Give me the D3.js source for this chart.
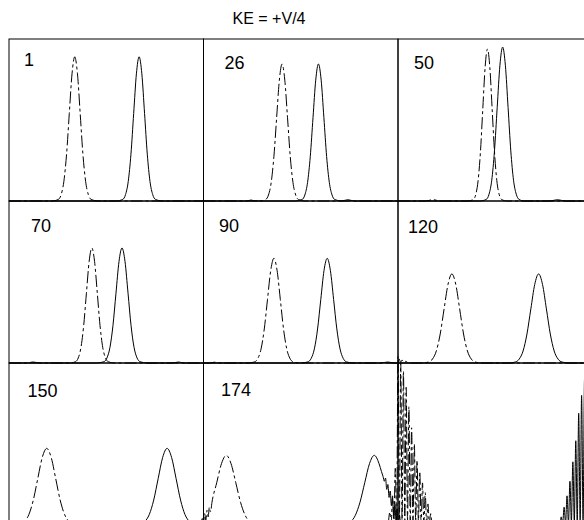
<!DOCTYPE html>
<html>
<head>
<meta charset="utf-8">
<script src="https://cdn.jsdelivr.net/npm/d3@7/dist/d3.min.js"></script>
<style>
html,body{margin:0;padding:0;background:#fff;}
svg{display:block;}
</style>
</head>
<body>
<script>
// ---------------- DATA (x: 0-100 across a panel, y: 0-1 of panel height) ----------------
const chartTitle = "KE = +V/4";
const panelLabels = ["1", "26", "50", "70", "90", "120", "150", "174", ""];

const dashedCurves = [
  // 1
  [[0,0],[22,0],[25.4,0.010],[26.8,0.039],[28.2,0.120],[29.6,0.289],[31.0,0.540],[32.4,0.785],[33.8,0.89],[35.2,0.785],[36.6,0.540],[38.0,0.289],[39.4,0.120],[40.8,0.039],[42.2,0.010],[46,0],[100,0]],
  // 26
  [[0,0],[22,0],[24.5,0.006],[26.5,0],[28.5,0.006],[30,0],[32.0,0.009],[33.4,0.037],[34.8,0.114],[36.2,0.275],[37.6,0.514],[39.0,0.746],[40.4,0.846],[41.8,0.746],[43.2,0.514],[44.6,0.275],[46.0,0.114],[47.4,0.037],[48.8,0.009],[52,0],[100,0]],
  // 50
  [[0,0],[14,0],[18,0.008],[22,0],[36,0],[38.8,0.010],[40.0,0.041],[41.2,0.127],[42.4,0.305],[43.6,0.569],[44.8,0.827],[46.0,0.938],[47.2,0.827],[48.4,0.569],[49.6,0.305],[50.8,0.127],[52.0,0.041],[53.2,0.010],[56,0],[100,0]],
  // 70
  [[0,0],[9,0],[12.4,0.006],[16,0],[31,0],[34.2,0.008],[35.6,0.031],[37.0,0.096],[38.4,0.231],[39.8,0.431],[41.2,0.626],[42.6,0.71],[44.0,0.626],[45.4,0.431],[46.8,0.231],[48.2,0.096],[49.6,0.031],[51.0,0.008],[54,0],[100,0]],
  // 90
  [[0,0],[3,0],[5.7,0.005],[9,0],[23,0],[26.3,0.007],[27.95,0.028],[29.6,0.087],[31.25,0.210],[32.9,0.392],[34.55,0.570],[36.2,0.646],[37.85,0.570],[39.5,0.392],[41.15,0.210],[42.8,0.087],[44.45,0.028],[46.1,0.007],[49,0],[100,0]],
  // 120
  [[0,0],[0.6,0.025],[1.3,0.004],[2.1,0.018],[3.0,0.003],[4.0,0.010],[5.5,0],[12,0],[15.7,0.006],[17.7,0.024],[19.7,0.074],[21.7,0.179],[23.7,0.334],[25.7,0.485],[27.7,0.55],[29.7,0.485],[31.7,0.334],[33.7,0.179],[35.7,0.074],[37.7,0.024],[39.7,0.006],[43,0],[100,0]],
  // 150
  [[0,0],[3,0],[5.6,0.005],[7.9,0.021],[10.2,0.064],[12.5,0.154],[14.8,0.287],[17.1,0.417],[19.4,0.473],[21.7,0.417],[24.0,0.287],[26.3,0.154],[28.6,0.064],[30.9,0.021],[33.2,0.005],[36,0],[100,0]],
  // 174
  [[-1.5,0],[-0.6,0.04],[0,0.01],[0.6,0.07],[1.2,0.03],[1.8,0.09],[2.4,0.05],[3.0,0.11],[3.6,0.08],[4.35,0.140],[6.8,0.261],[9.25,0.379],[11.7,0.43],[14.15,0.379],[16.6,0.261],[19.05,0.140],[21.5,0.058],[23.95,0.019],[26.4,0.005],[29,0],[100,0]],
  // last panel
  [[-5,0],[-4.2,0.08],[-3.5,0.01],[-2.8,0.18],[-2.1,0.01],[-1.4,0.35],[-0.7,0.02],[0,1.04],[0.7,0.03],[1.4,1.0],[2.1,0.03],[2.8,0.95],[3.5,0.03],[4.2,0.85],[4.9,0.03],[5.6,0.73],[6.3,0.02],[7.0,0.6],[7.7,0.02],[8.4,0.5],[9.1,0.02],[9.8,0.4],[10.5,0.02],[11.2,0.33],[11.9,0.01],[12.6,0.26],[13.3,0.01],[14.0,0.2],[14.7,0.01],[15.4,0.13],[16.1,0.01],[16.8,0.07],[17.5,0.005],[18.2,0.03],[19.5,0],[100,0]]
];

const solidCurves = [
  // 1
  [[0,0],[55,0],[58.5,0.010],[59.9,0.039],[61.3,0.120],[62.7,0.289],[64.1,0.540],[65.5,0.785],[66.9,0.89],[68.3,0.785],[69.7,0.540],[71.1,0.289],[72.5,0.120],[73.9,0.039],[75.3,0.010],[79,0],[100,0]],
  // 26
  [[0,0],[47,0],[50.7,0.009],[52.1,0.037],[53.5,0.114],[54.9,0.275],[56.3,0.514],[57.7,0.746],[59.1,0.846],[60.5,0.746],[61.9,0.514],[63.3,0.275],[64.7,0.114],[66.1,0.037],[67.5,0.009],[71,0],[74.2,0.008],[77.5,0],[100,0]],
  // 50
  [[0,0],[42,0],[45.4,0.010],[46.8,0.042],[48.2,0.128],[49.6,0.309],[51.0,0.577],[52.4,0.838],[53.8,0.95],[55.2,0.838],[56.6,0.577],[58.0,0.309],[59.4,0.128],[60.8,0.042],[62.2,0.010],[65,0],[78,0],[82,0.008],[86,0],[100,0]],
  // 70
  [[0,0],[45,0],[48.8,0.008],[50.35,0.031],[51.9,0.096],[53.45,0.231],[55.0,0.431],[56.55,0.626],[58.1,0.71],[59.65,0.626],[61.2,0.431],[62.75,0.231],[64.3,0.096],[65.85,0.031],[67.4,0.008],[71,0],[84,0],[87.1,0.006],[90,0],[100,0]],
  // 90
  [[0,0],[50,0],[53.7,0.007],[55.35,0.028],[57.0,0.087],[58.65,0.210],[60.3,0.392],[61.95,0.570],[63.6,0.646],[65.25,0.570],[66.9,0.392],[68.55,0.210],[70.2,0.087],[71.85,0.028],[73.5,0.007],[77,0],[91,0],[94.8,0.006],[98,0],[100,0]],
  // 120
  [[0,0],[57,0],[60.3,0.006],[62.3,0.024],[64.3,0.074],[66.3,0.179],[68.3,0.334],[70.3,0.485],[72.3,0.55],[74.3,0.485],[76.3,0.334],[78.3,0.179],[80.3,0.074],[82.3,0.024],[84.3,0.006],[88,0],[100,0]],
  // 150
  [[0,0],[64,0],[67.5,0.005],[69.8,0.021],[72.1,0.064],[74.4,0.154],[76.7,0.287],[79.0,0.417],[81.3,0.473],[83.6,0.417],[85.9,0.287],[88.2,0.154],[90.5,0.064],[92.8,0.021],[95.1,0.005],[98,0],[100,0]],
  // 174
  [[0,0],[70,0],[73.1,0.005],[75.55,0.019],[78.0,0.058],[80.45,0.140],[82.9,0.261],[85.35,0.379],[87.8,0.43],[90.25,0.379],[91.5,0.33],[92.3,0.30],[93.0,0.27],[93.6,0.29],[94.2,0.22],[94.8,0.25],[95.4,0.17],[96.0,0.21],[96.6,0.12],[97.2,0.17],[97.8,0.06],[98.4,0.13],[99.0,0.02],[99.6,0.10],[100.2,0.0],[100.8,0.06],[101.4,0],[102,0.03],[103,0]],
  // last panel
  [[0,0],[81,0],[82.4,0.02],[83.15,0.0],[83.9,0.05],[84.65,0.01],[85.4,0.11],[86.15,0.01],[86.9,0.18],[87.65,0.01],[88.4,0.27],[89.15,0.02],[89.9,0.39],[90.65,0.02],[91.4,0.52],[92.15,0.02],[92.9,0.69],[93.65,0.03],[94.4,0.8],[95.15,0.03],[95.9,0.9],[96.65,0.03],[97.4,1.0],[98.15,0.03],[98.9,1.04],[99.65,0.03],[100.4,1.05]]
];

// ---------------- LAYOUT ----------------
const W = 584, H = 520;
const panelLeft = 9, panelTop = 39, pw = 194.5, ph = 162;
const labelOffsets = [[15,27],[21,30],[16,30],[22,31],[15.5,31],[10,31.5],[18.5,34],[17.5,33],[0,0]];

const svg = d3.select("body").append("svg").attr("width", W).attr("height", H);
svg.append("rect").attr("width", W).attr("height", H).attr("fill", "#fff");

svg.append("text")
  .attr("x", 269).attr("y", 24)
  .attr("text-anchor", "middle")
  .attr("font-family", "Liberation Sans, Arial, sans-serif")
  .attr("font-size", 16)
  .text(chartTitle);

const g = svg.append("g");

panelLabels.forEach((lab, i) => {
  const col = i % 3, row = Math.floor(i / 3);
  const x0 = panelLeft + col * pw, y0 = panelTop + row * ph;
  const x = d3.scaleLinear().domain([0, 100]).range([x0, x0 + pw]);
  const y = d3.scaleLinear().domain([0, 1]).range([y0 + ph, y0]);

  g.append("rect")
    .attr("x", x0).attr("y", y0).attr("width", pw).attr("height", ph)
    .attr("fill", "none").attr("stroke", "#000").attr("stroke-width", 1);

  const line = d3.line().x(d => x(d[0])).y(d => y(d[1])).curve(d3.curveMonotoneX);

  g.append("path").datum(solidCurves[i])
    .attr("d", line).attr("fill", "none").attr("stroke", "#000").attr("stroke-width", 1);
  g.append("path").datum(dashedCurves[i])
    .attr("d", line).attr("fill", "none").attr("stroke", "#000").attr("stroke-width", 1)
    .attr("stroke-dasharray", "12,3,3,3");

  if (lab) {
    g.append("text")
      .attr("x", x0 + labelOffsets[i][0]).attr("y", y0 + labelOffsets[i][1])
      .attr("font-family", "Liberation Sans, Arial, sans-serif")
      .attr("font-size", 18)
      .text(lab);
  }
});
</script>
</body>
</html>
